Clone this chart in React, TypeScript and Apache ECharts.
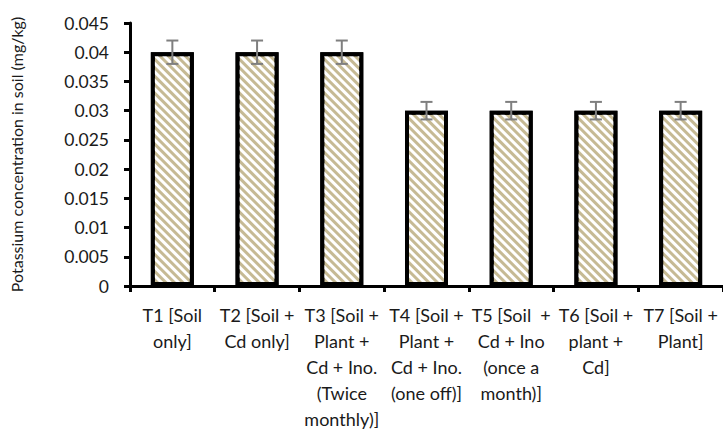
import React, { useEffect, useRef } from "react";
import * as echarts from "echarts";

const categories = [
  "T1 [Soil\nonly]",
  "T2 [Soil +\nCd only]",
  "T3 [Soil +\nPlant +\nCd + Ino.\n(Twice\nmonthly)]",
  "T4 [Soil +\nPlant +\nCd + Ino.\n(one off)]",
  "T5 [Soil  +\nCd + Ino\n(once a\nmonth)]",
  "T6 [Soil +\nplant +\nCd]",
  "T7 [Soil +\nPlant]",
];
const values = [0.04, 0.04, 0.04, 0.03, 0.03, 0.03, 0.03];
const errors = [0.002, 0.002, 0.002, 0.0015, 0.0015, 0.0015, 0.0015];
const yTicks = { min: 0, max: 0.045, interval: 0.005 };
const yTitle = "Potassium concentration in soil (mg/kg)";

const FONT = "Lato, 'Open Sans', sans-serif";

export default function App() {
  const ref = useRef<HTMLDivElement>(null);
  useEffect(() => {
    if (!ref.current) return;
    const chart = echarts.init(ref.current, undefined, { renderer: "svg" });
    chart.setOption({
      animation: false,
      backgroundColor: "#ffffff",
      grid: { left: 124, top: 23, width: 603, bottom: 139, containLabel: false },
      xAxis: {
        type: "category",
        data: categories,
        axisLine: { lineStyle: { color: "#000", width: 3 } },
        axisTick: { show: true, inside: false, length: 6, lineStyle: { color: "#000", width: 3 }, interval: 0 },
        axisLabel: {
          interval: 0,
          margin: 16,
          color: "#1a1a1a",
          fontFamily: FONT,
          fontSize: 18,
          lineHeight: 26,
          align: "center",
        },
      },
      yAxis: {
        type: "value",
        min: yTicks.min,
        max: yTicks.max,
        interval: yTicks.interval,
        name: yTitle,
        nameLocation: "middle",
        nameGap: 106,
        nameTextStyle: { color: "#1a1a1a", fontFamily: FONT, fontSize: 16 },
        axisLine: { show: true, lineStyle: { color: "#000", width: 3 } },
        axisTick: { show: true, inside: false, length: 6, lineStyle: { color: "#000", width: 3 } },
        splitLine: { show: false },
        axisLabel: {
          margin: 21,
          color: "#1a1a1a",
          fontFamily: FONT,
          fontSize: 17.5,
          formatter: (v: number) => String(+v.toFixed(3)),
        },
      },
      series: [
        {
          type: "bar",
          data: values,
          barWidth: 43,
          itemStyle: {
            color: "#c6ba94",
            borderColor: "#000",
            borderWidth: 4,
            decal: {
              symbol: "rect",
              symbolSize: 1,
              color: "#ffffff",
              dashArrayX: [1, 0],
              dashArrayY: [3, 3],
              rotation: Math.PI / 4,
            },
          },
          z: 2,
        },
        {
          type: "custom",
          data: values.map((v, i) => [i, v, errors[i]]),
          z: 5,
          renderItem: (params: any, api: any) => {
            const i = api.value(0);
            const v = api.value(1);
            const e = api.value(2);
            const top = api.coord([i, v + e]);
            const bot = api.coord([i, v - e]);
            const hw = 6;
            const style = { stroke: "#7f7f7f", lineWidth: 2 };
            return {
              type: "group",
              children: [
                { type: "line", shape: { x1: top[0], y1: top[1], x2: bot[0], y2: bot[1] }, style },
                { type: "line", shape: { x1: top[0] - hw, y1: top[1], x2: top[0] + hw, y2: top[1] }, style },
                { type: "line", shape: { x1: bot[0] - hw, y1: bot[1], x2: bot[0] + hw, y2: bot[1] }, style },
              ],
            };
          },
        },
      ],
    });
    return () => chart.dispose();
  }, []);
  return (
    <div
      ref={ref}
      style={{ position: "fixed", left: 0, top: 0, width: 723, height: 432 }}
    />
  );
}
